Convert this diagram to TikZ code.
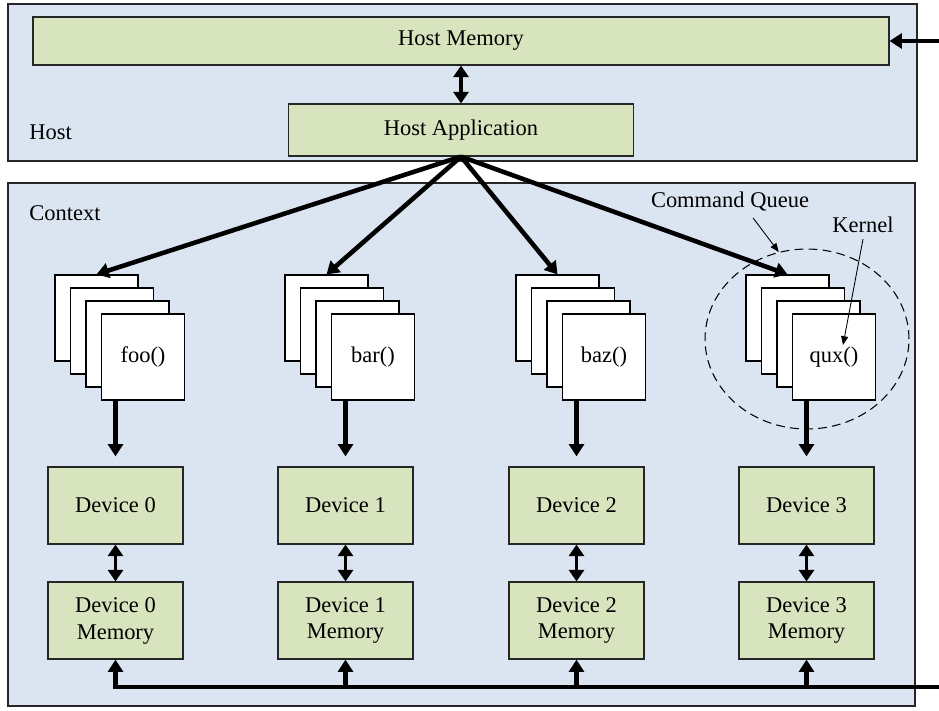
\documentclass[tikz,border=0pt]{standalone}
\usepackage{fontspec}
\setmainfont{Liberation Serif}
\usetikzlibrary{arrows.meta,shapes.geometric}
\definecolor{blueback}{HTML}{DBE5F1}
\definecolor{greenbox}{HTML}{D7E4BD}

\begin{document}
\begin{tikzpicture}[x=0.02cm,y=-0.02cm,
        font=\fontsize{12.8}{15.3}\selectfont,
        frame/.style={draw=black!85,fill=blueback,line width=0.7pt,inner sep=0pt},
        unit/.style={draw=black!85,fill=greenbox,line width=0.7pt,inner sep=0pt,align=center,
            minimum width=2.7cm,minimum height=1.54cm},
        card/.style={draw,fill=white,line width=0.7pt,inner sep=0pt,
            minimum width=1.66cm,minimum height=1.72cm},
        fat/.style={line width=2.6pt,-{Triangle[length=7pt,width=8.5pt]}},
        dbl/.style={line width=1.9pt,{Triangle[length=6.5pt,width=8.5pt]}-{Triangle[length=6.5pt,width=8.5pt]}},
        slim/.style={line width=0.5pt,-{Triangle[length=5pt,width=4pt]}}]
            \useasboundingbox (0,0) rectangle (939,710);

            \node[frame,minimum width=18.18cm,minimum height=3.14cm] (host) at (462.5,82.5) {};
            \node[frame,minimum width=18.14cm,minimum height=10.46cm] (ctx) at (461.5,444.5) {};
            \node[anchor=west,inner sep=0pt] (hostlab) at (29,132) {Host};
            \node[anchor=west,inner sep=0pt] (ctxlab) at (29,213) {Context};

            \node[unit,minimum width=17.12cm,minimum height=0.96cm] (hmem) at (461,41) {Host Memory};
            \node[unit,minimum width=6.9cm,minimum height=1.04cm] (happ) at (461,130) {Host Application};

            \node[card] (foo1) at (96.5,318) {};
            \node[card] (foo2) at (112,331) {};
            \node[card] (foo3) at (127.5,344) {};
            \node[card] (foo4) at (143,357) {foo()};
            \node[card] (bar1) at (326.5,318) {};
            \node[card] (bar2) at (342,331) {};
            \node[card] (bar3) at (357.5,344) {};
            \node[card] (bar4) at (373,357) {bar()};
            \node[card] (baz1) at (557.5,318) {};
            \node[card] (baz2) at (573,331) {};
            \node[card] (baz3) at (588.5,344) {};
            \node[card] (baz4) at (604,357) {baz()};
            \node[card] (qux1) at (787.5,318) {};
            \node[card] (qux2) at (803,331) {};
            \node[card] (qux3) at (818.5,344) {};
            \node[card] (qux4) at (834,357) {qux()};

            \node[ellipse,draw,line width=0.6pt,dash pattern=on 5pt off 3pt,
                minimum width=4.08cm,minimum height=3.6cm] (cq) at (807,339) {};
            \node (cqlab) at (730,202) {Command Queue};
            \node (klab) at (863,225) {Kernel};
            \coordinate (khead) at (843,345);

            \node[unit] (D0) at (115.5,505.5) {Device 0};
            \node[unit] (D1) at (345.5,505.5) {Device 1};
            \node[unit] (D2) at (576.5,505.5) {Device 2};
            \node[unit] (D3) at (806.5,505.5) {Device 3};
            \node[unit] (M0) at (115.5,620.5) {Device 0\\Memory};
            \node[unit] (M1) at (345.5,620.5) {Device 1\\Memory};
            \node[unit] (M2) at (576.5,620.5) {Device 2\\Memory};
            \node[unit] (M3) at (806.5,620.5) {Device 3\\Memory};

            \coordinate (hostin) at (939,41);
            \coordinate (busin) at (939,687);

            \draw[fat] (hostin) -- (hmem.east);
            \draw[dbl] (hmem.south) -- (happ.north);
            \draw[fat] (happ.south) -- (foo1.north);
            \draw[fat] (happ.south) -- (bar1.north);
            \draw[fat] (happ.south) -- (baz1.north);
            \draw[fat] (happ.south) -- (qux1.north);

            \draw[slim] ([xshift=0.46cm]cqlab.south) -- (cq.108);
            \draw[slim] (klab.south) -- (khead);

            \draw[fat,shorten >=0.2cm] (D0 |- foo4.south) -- (D0.north);
            \draw[fat,shorten >=0.2cm] (D1 |- bar4.south) -- (D1.north);
            \draw[fat,shorten >=0.2cm] (D2 |- baz4.south) -- (D2.north);
            \draw[fat,shorten >=0.2cm] (D3 |- qux4.south) -- (D3.north);

            \draw[dbl] (D0.south) -- (M0.north);
            \draw[dbl] (D1.south) -- (M1.north);
            \draw[dbl] (D2.south) -- (M2.north);
            \draw[dbl] (D3.south) -- (M3.north);

            \draw[fat] (busin) -| (M0.south);
            \draw[fat] (M1.south |- busin) -- (M1.south);
            \draw[fat] (M2.south |- busin) -- (M2.south);
            \draw[fat] (M3.south |- busin) -- (M3.south);

        \end{tikzpicture}
\end{document}
